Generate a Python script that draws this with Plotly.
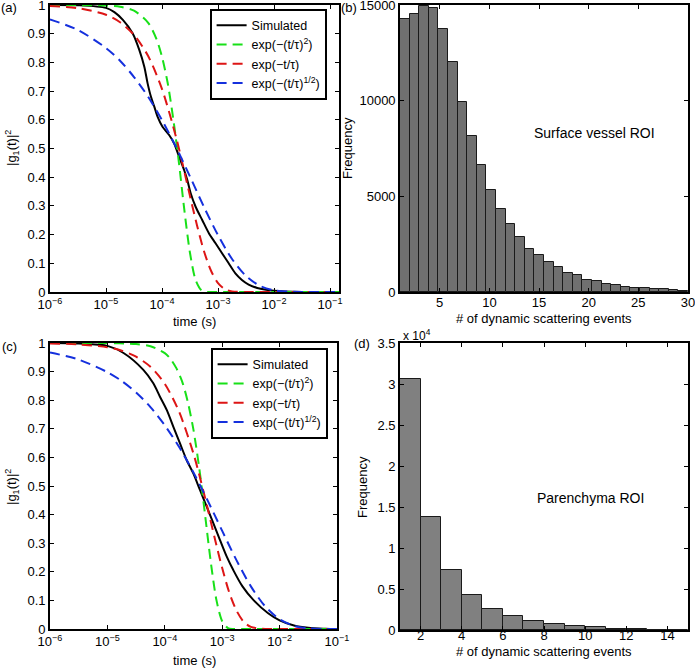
import plotly.graph_objects as go

# ---------------- data ----------------
# Panel (a): surface vessel correlation curves
t_sim_a = [1e-6, 3.16e-6, 1e-5, 1.41e-5, 2.0e-5, 3.0e-5, 3.94e-5, 4.83e-5, 5.53e-5, 6.35e-5,
           7.28e-5, 8.32e-5, 1.02e-4, 1.34e-4, 1.64e-4, 2.02e-4, 2.48e-4, 2.83e-4, 3.25e-4,
           3.98e-4, 5.22e-4, 6.87e-4, 9.03e-4, 1.18e-3, 1.55e-3, 2.04e-3, 2.67e-3, 3.52e-3,
           5.01e-3, 1e-2, 3.16e-2, 0.145]
g_sim_a = [1.0, 0.999, 0.99, 0.975, 0.948, 0.901, 0.843, 0.785, 0.727, 0.680,
           0.646, 0.611, 0.576, 0.547, 0.518, 0.471, 0.425, 0.390, 0.344,
           0.297, 0.251, 0.205, 0.170, 0.135, 0.100, 0.065, 0.042, 0.026,
           0.014, 0.004, 0.0, 0.0]

t_sq_a = [1e-6, 1e-5, 1.78e-5, 3.16e-5, 5.62e-5, 7.94e-5, 1e-4, 1.26e-4, 1.58e-4, 2.0e-4,
          2.51e-4, 3.16e-4, 3.98e-4, 5.01e-4, 6.31e-4, 1e-3, 1e-2, 0.145]
g_sq_a = [1.0, 0.998, 0.994, 0.980, 0.939, 0.882, 0.819, 0.729, 0.606, 0.452,
          0.284, 0.136, 0.042, 0.007, 0.0004, 0.0, 0.0, 0.0]

t_exp_a = [1e-6, 3.16e-6, 1e-5, 1.78e-5, 3.16e-5, 5.62e-5, 1e-4, 1.78e-4, 2.37e-4, 3.16e-4,
           4.22e-4, 5.62e-4, 7.5e-4, 1e-3, 1.33e-3, 1.78e-3, 3.16e-3, 1e-2, 0.145]
g_exp_a = [0.9965, 0.989, 0.966, 0.940, 0.896, 0.823, 0.707, 0.540, 0.440, 0.334,
           0.232, 0.142, 0.074, 0.031, 0.0098, 0.002, 0.0, 0.0, 0.0]

t_sqrt_a = [1e-6, 3.16e-6, 1e-5, 1.78e-5, 3.16e-5, 5.62e-5, 1e-4, 1.78e-4, 3.16e-4, 5.62e-4,
            1e-3, 1.78e-3, 3.16e-3, 5.62e-3, 1e-2, 3.16e-2, 0.145]
g_sqrt_a = [0.950, 0.913, 0.850, 0.806, 0.749, 0.681, 0.599, 0.505, 0.402, 0.296,
            0.198, 0.115, 0.056, 0.021, 0.006, 0.0001, 0.0]

# Panel (c): parenchyma correlation curves
t_sim_c = [1e-6, 3.16e-6, 1e-5, 1.91e-5, 4.23e-5, 6.31e-5, 8.24e-5, 1.08e-4, 1.41e-4, 1.84e-4,
           2.40e-4, 3.14e-4, 4.10e-4, 5.37e-4, 7.00e-4, 9.16e-4, 1.20e-3, 1.56e-3, 2.24e-3,
           3.55e-3, 6.31e-3, 1e-2, 1.78e-2, 3.16e-2, 6.31e-2, 1e-1]
g_sim_c = [1.0, 0.998, 0.99, 0.965, 0.906, 0.859, 0.812, 0.766, 0.707, 0.649,
           0.591, 0.544, 0.486, 0.428, 0.370, 0.311, 0.253, 0.206, 0.150,
           0.100, 0.055, 0.030, 0.012, 0.004, 0.001, 0.0]

t_sq_c = [1e-6, 1e-5, 3.16e-5, 5.62e-5, 1e-4, 1.26e-4, 1.58e-4, 2.0e-4, 2.51e-4, 3.16e-4,
          3.98e-4, 5.01e-4, 6.31e-4, 7.94e-4, 1e-3, 1.26e-3, 1.58e-3, 3.16e-3, 1e-1]
g_sq_c = [1.0, 0.9996, 0.9964, 0.9886, 0.9644, 0.944, 0.913, 0.866, 0.795, 0.696,
          0.563, 0.402, 0.236, 0.101, 0.027, 0.003, 0.0001, 0.0, 0.0]

t_exp_c = [1e-6, 3.16e-6, 1e-5, 1.78e-5, 3.16e-5, 5.62e-5, 1e-4, 1.78e-4, 3.16e-4, 4.22e-4,
           5.62e-4, 7.5e-4, 1e-3, 1.33e-3, 1.78e-3, 2.37e-3, 3.16e-3, 5.62e-3, 1e-2, 1e-1]
g_exp_c = [0.9985, 0.995, 0.985, 0.973, 0.952, 0.917, 0.857, 0.759, 0.613, 0.520,
           0.419, 0.313, 0.213, 0.127, 0.064, 0.025, 0.0075, 0.0002, 0.0, 0.0]

t_sqrt_c = [1e-6, 3.16e-6, 1e-5, 1.78e-5, 3.16e-5, 5.62e-5, 1e-4, 1.78e-4, 3.16e-4, 5.62e-4,
            1e-3, 1.78e-3, 3.16e-3, 5.62e-3, 1e-2, 1.78e-2, 3.16e-2, 5.62e-2, 1e-1]
g_sqrt_c = [0.967, 0.942, 0.898, 0.867, 0.827, 0.776, 0.712, 0.636, 0.547, 0.448,
            0.343, 0.240, 0.149, 0.079, 0.034, 0.011, 0.0024, 0.0003, 0.0]

# Panel (b): surface vessel ROI histogram (30 bins between 1 and 30)
hist_b_range = [1, 30]
counts_b = [14290, 14510, 14965, 14860, 13730, 12010, 9920, 8140, 6650, 5330,
            4316, 3550, 2854, 2270, 1914, 1566, 1295, 1009, 870, 650,
            550, 400, 348, 250, 226, 185, 139, 135, 104, 70]

# Panel (d): parenchyma ROI histogram (14 bins between 1 and 15)
hist_d_range = [1, 15]
counts_d = [30660, 13725, 7350, 4240, 2599, 1665, 1056, 690, 446, 325, 162, 122, 45, 20]

# tick labels
log_ticks = [1e-6, 1e-5, 1e-4, 1e-3, 1e-2, 1e-1]
log_ticktext = ["10<sup>\u22126</sup>", "10<sup>\u22125</sup>", "10<sup>\u22124</sup>",
                "10<sup>\u22123</sup>", "10<sup>\u22122</sup>", "10<sup>\u22121</sup>"]
g_ticks = [0, 0.1, 0.2, 0.3, 0.4, 0.5, 0.6, 0.7, 0.8, 0.9, 1]
b_xticks = [5, 10, 15, 20, 25, 30]
b_yticks = [0, 5000, 10000, 15000]
d_xticks = [2, 4, 6, 8, 10, 12, 14]
d_yticks = [0, 5000, 10000, 15000, 20000, 25000, 30000, 35000]
d_yticktext = ["0", "0.5", "1", "1.5", "2", "2.5", "3", "3.5"]

legend_names = ["Simulated", "exp(\u2212(t/\u03c4)<sup>2</sup>)", "exp(\u2212t/\u03c4)",
                "exp(\u2212(t/\u03c4)<sup>1/2</sup>)"]

# ---------------- figure ----------------
W, H = 695, 668
FONT = "Liberation Sans, Arial, Helvetica, sans-serif"

def fx(x):
    return x / W

def fy(y):
    return 1 - y / H

fig = go.Figure()

dash = "10px,6px"
colors = ["black", "#18e018", "#dd1515", "#1530dd"]

def add_curves(ts, gs, xa, ya, leg):
    for i, (t, g) in enumerate(zip(ts, gs)):
        fig.add_trace(go.Scatter(
            x=t, y=g, mode="lines", name=legend_names[i],
            line=dict(color=colors[i], width=2, dash="solid" if i == 0 else dash,
                      shape="spline", smoothing=0.8),
            xaxis=xa, yaxis=ya, legend=leg, showlegend=True))

add_curves([t_sim_a, t_sq_a, t_exp_a, t_sqrt_a], [g_sim_a, g_sq_a, g_exp_a, g_sqrt_a],
           "x", "y", "legend")
add_curves([t_sim_c, t_sq_c, t_exp_c, t_sqrt_c], [g_sim_c, g_sq_c, g_exp_c, g_sqrt_c],
           "x2", "y2", "legend2")

def add_hist(counts, rng, xa, ya, fill):
    n = len(counts)
    w = (rng[1] - rng[0]) / n
    centers = [rng[0] + w * (i + 0.5) for i in range(n)]
    fig.add_trace(go.Bar(x=centers, y=counts, width=w, xaxis=xa, yaxis=ya,
                         marker=dict(color=fill, line=dict(color="#1a1a1a", width=1)),
                         showlegend=False))

add_hist(counts_b, hist_b_range, "x3", "y3", "#707070")
add_hist(counts_d, hist_d_range, "x4", "y4", "#808080")

ax_common = dict(showline=True, linecolor="black", linewidth=1.6, mirror="ticks",
                 ticks="inside", ticklen=4, tickwidth=1, tickcolor="black",
                 showgrid=False, zeroline=False, automargin=False,
                 ticklabeloverflow="allow",
                 tickfont=dict(family=FONT, size=13, color="black"))

LEGFONT = 12.5

fig.update_layout(
    width=W, height=H, margin=dict(l=0, r=0, t=0, b=0),
    paper_bgcolor="white", plot_bgcolor="white",
    font=dict(family=FONT, size=13, color="black"),
    bargap=0,
    xaxis=dict(domain=[fx(50), fx(339)], anchor="y", type="log", range=[-6, -0.84],
               tickvals=log_ticks, ticktext=log_ticktext, **ax_common),
    yaxis=dict(domain=[fy(292), fy(5)], anchor="x", range=[0, 1], tickvals=g_ticks,
               **ax_common),
    xaxis2=dict(domain=[fx(50), fx(337)], anchor="y2", type="log", range=[-6, -1],
                tickvals=log_ticks, ticktext=log_ticktext, **ax_common),
    yaxis2=dict(domain=[fy(629), fy(343)], anchor="x2", range=[0, 1], tickvals=g_ticks,
                **ax_common),
    xaxis3=dict(domain=[fx(400), fx(688)], anchor="y3", range=hist_b_range,
                tickvals=b_xticks, ticklabelstandoff=-2, **ax_common),
    yaxis3=dict(domain=[fy(292), fy(5)], anchor="x3", range=[0, 15000], tickvals=b_yticks,
                tickformat="d", **ax_common),
    xaxis4=dict(domain=[fx(400), fx(688)], anchor="y4", range=hist_d_range,
                tickvals=d_xticks, ticklabelstandoff=-7, **ax_common),
    yaxis4=dict(domain=[fy(630), fy(343)], anchor="x4", range=[0, 35000], tickvals=d_yticks,
                ticktext=d_yticktext, **ax_common),
    legend=dict(x=fx(210), y=fy(9), xanchor="left", yanchor="top", bgcolor="white",
                bordercolor="black", borderwidth=1.6, font=dict(family=FONT, size=LEGFONT),
                tracegroupgap=0),
    legend2=dict(x=fx(211), y=fy(348), xanchor="left", yanchor="top", bgcolor="white",
                 bordercolor="black", borderwidth=1.6, font=dict(family=FONT, size=LEGFONT),
                 tracegroupgap=0),
)

def note(text, x, y, size=13, angle=0, xanchor="center"):
    fig.add_annotation(text=text, x=fx(x), y=fy(y), xref="paper", yref="paper",
                       showarrow=False, textangle=angle, xanchor=xanchor, yanchor="middle",
                       font=dict(family=FONT, size=size, color="black"))

note("(a)", 9, 8)
note("(b)", 349, 7)
note("(c)", 9, 346)
note("(d)", 362, 344)
note("|g<sub>1</sub>(t)|<sup>2</sup>", 12, 148, angle=-90)
note("|g<sub>1</sub>(t)|<sup>2</sup>", 12, 487, angle=-90)
note("time (s)", 194, 321)
note("time (s)", 194, 660)
note("Frequency", 348, 148, angle=-90)
note("Frequency", 362, 487, angle=-90)
note("# of dynamic scattering events", 544, 318)
note("# of dynamic scattering events", 544, 651)
note("x 10<sup>4</sup>", 401, 335, size=12, xanchor="left")
note("Surface vessel ROI", 594, 133, size=14)
note("Parenchyma ROI", 590, 498, size=14)

fig.write_html("out.html", config={"displayModeBar": False},
               post_script="document.body.style.margin='0';")
